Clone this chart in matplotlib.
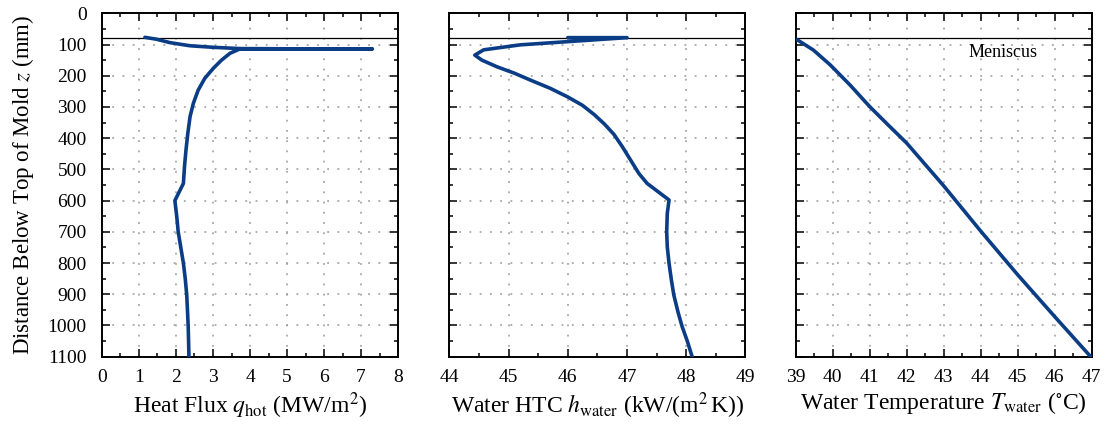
import numpy as np
import matplotlib.pyplot as plt
from matplotlib.ticker import MultipleLocator

plt.rcParams['font.family'] = ['Liberation Serif', 'DejaVu Serif']
plt.rcParams['mathtext.fontset'] = 'stix'

# data (z in mm below top of mold)
meniscus_z = 80

flux_q = [1.16, 1.47, 1.84, 2.38, 3.01, 3.73, 5.5, 7.3, 5.5, 3.73,
          3.46, 3.23, 3.01, 2.78, 2.60, 2.47, 2.38, 2.32, 2.27, 2.23, 2.2,
          1.97, 2.02, 2.06, 2.13, 2.2, 2.25, 2.29, 2.31, 2.33, 2.34, 2.35]
flux_z = [77, 83, 94, 104, 109, 113, 114, 114, 114, 114,
          128, 150, 176, 208, 246, 288, 331, 384, 438, 491, 545,
          600, 650, 700, 750, 800, 850, 902, 950, 1003, 1050, 1100]

htc_h = [46.0, 47.0, 45.2, 44.58, 44.43, 44.55, 44.8, 45.1, 45.37, 45.7,
         46.0, 46.25, 46.45, 46.62, 46.78, 46.92, 47.06, 47.2, 47.34, 47.71,
         47.68, 47.67, 47.68, 47.71, 47.75, 47.79, 47.86, 47.93, 48.02, 48.1]
htc_z = [78, 78, 101, 117, 134, 150, 171, 192, 214, 240,
         268, 295, 325, 355, 388, 427, 470, 513, 545, 598,
         641, 700, 748, 801, 855, 902, 956, 1003, 1051, 1100]

temp_T = [39.03, 39.48, 39.93, 40.47, 41.0, 41.5, 42.0, 42.54, 43.0,
          44.0, 45.0, 46.0, 46.97]
temp_z = [84, 118, 165, 230, 299, 358, 416, 490, 553,
          698, 838, 972, 1100]

panels = [
    (flux_q, flux_z, (0, 8), 'Heat Flux $q_{\\mathrm{hot}}$ (MW/m$^2$)'),
    (htc_h, htc_z, (44, 49), 'Water HTC $h_{\\mathrm{water}}$ (kW/(m$^2\\,$K))'),
    (temp_T, temp_z, (39, 47), 'Water Temperature $T_{\\mathrm{water}}$ ($^{\\circ}$C)'),
]

fig = plt.figure(figsize=(11.07, 4.29), dpi=100)
lefts = [0.0921, 0.4059, 0.7188]
line_color = '#0b3d87'

for i, (xv, zv, xlim, label) in enumerate(panels):
    ax = fig.add_axes([lefts[i], 0.1685, 0.2675, 0.8005])
    ax.plot(xv, zv, color=line_color, lw=2.6, solid_joinstyle='round',
            solid_capstyle='round', zorder=3)
    ax.axhline(meniscus_z, color='black', lw=0.9, zorder=2)
    ax.set_xlim(*xlim)
    ax.set_ylim(1100, 0)
    ax.xaxis.set_major_locator(MultipleLocator(1))
    ax.xaxis.set_minor_locator(MultipleLocator(0.5))
    ax.yaxis.set_major_locator(MultipleLocator(100))
    ax.yaxis.set_minor_locator(MultipleLocator(50))
    ax.tick_params(which='both', direction='in', top=True, right=True,
                   labelsize=14, width=1.1)
    ax.tick_params(axis='x', pad=9)
    ax.tick_params(axis='y', pad=11)
    ax.tick_params(which='major', length=5.5)
    ax.tick_params(which='minor', length=3)
    ax.grid(True, which='major', color='#999999', linestyle=(0, (1.2, 5.5)), lw=1.1)
    for s in ax.spines.values():
        s.set_linewidth(1.4)
    ax.set_xlabel(label, fontsize=17, labelpad=3)
    if i == 0:
        ax.set_ylabel('Distance Below Top of Mold $z$ (mm)', fontsize=16.5, labelpad=8)
    else:
        ax.set_yticklabels([])
    if i == 2:
        ax.text(44.6, 125, 'Meniscus', fontsize=13, ha='center', va='center')

plt.savefig('out.png', dpi=100)
